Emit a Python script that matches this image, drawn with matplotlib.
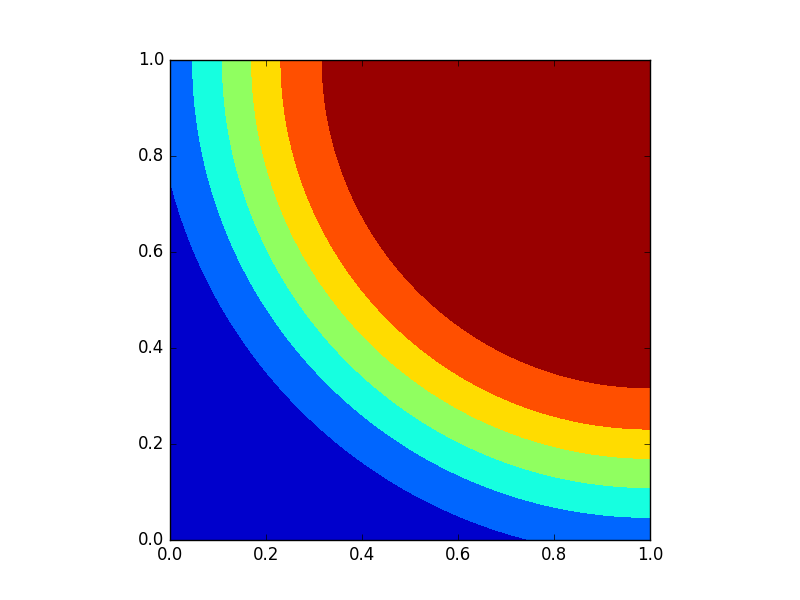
import numpy as np
import matplotlib
matplotlib.use("Agg")
import matplotlib.pyplot as plt

plt.style.use('classic')

# Band boundaries: distance from the corner (1, 1)
levels = [0.0, 0.685, 0.771, 0.832, 0.893, 0.955, 1.033, 1.5]
band_colors = ['#990000', '#ff4f00', '#ffdc00', '#90ff60', '#16ffe0', '#0066ff', '#0000cc']
x_ticks = [0.0, 0.2, 0.4, 0.6, 0.8, 1.0]
y_ticks = [0.0, 0.2, 0.4, 0.6, 0.8, 1.0]

xs = np.linspace(0, 1, 600)
ys = np.linspace(0, 1, 600)
X, Y = np.meshgrid(xs, ys)
D = np.hypot(1 - X, 1 - Y)

fig = plt.figure(figsize=(8, 6), dpi=100)
ax = fig.add_subplot(111)
ax.contourf(X, Y, D, levels=levels, colors=band_colors)
ax.set_aspect('equal')
ax.set_xlim(0, 1)
ax.set_ylim(0, 1)
ax.set_xticks(x_ticks)
ax.set_yticks(y_ticks)
fig.savefig('out.png', dpi=100)
